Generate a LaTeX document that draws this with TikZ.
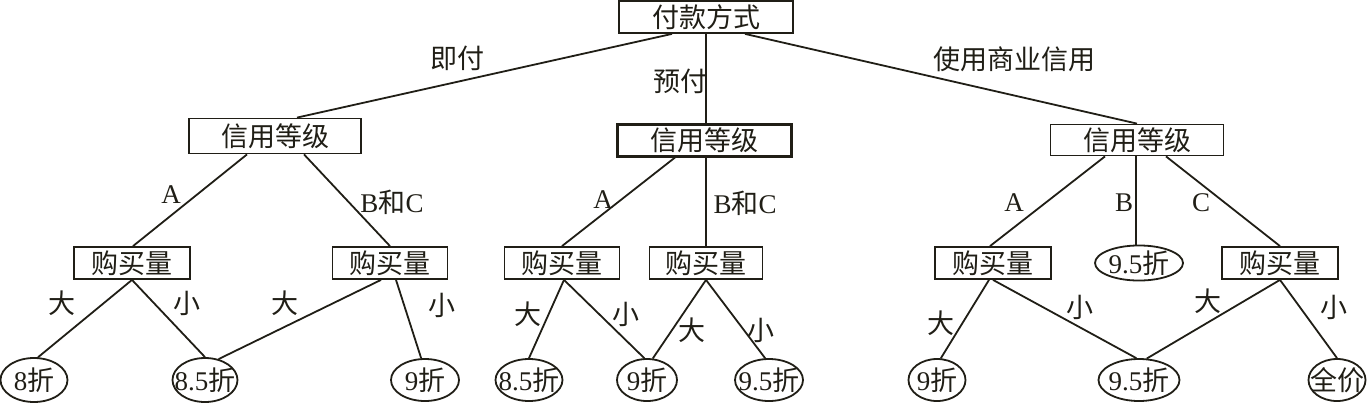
\documentclass[tikz,border=0pt]{standalone}
\usepackage{fontspec}
\setmainfont{Liberation Serif}
\newfontfamily\cjk{Noto Sans CJK SC}
\usetikzlibrary{shapes.geometric}
\definecolor{ink}{RGB}{32,30,22}
\begin{document}
\begin{tikzpicture}[x=1pt,y=-1pt,color=ink,line width=1.8pt,
  bigfont/.style={font=\fontsize{27}{27}\selectfont},
  box/.style={draw, rectangle, inner sep=0pt, minimum width=#1, minimum height=32pt, bigfont},
  leaf/.style={draw, ellipse, inner sep=0pt, bigfont},
  lbl/.style={inner sep=0pt, bigfont}]
\useasboundingbox (0,0) rectangle (1368,402);
% boxes
\node[box=174pt] (top) at (706,17) {\cjk 付款方式};
\node[box=172pt, minimum height=35pt] (L) at (275,136) {\cjk 信用等级};
\node[box=174pt, line width=3pt] (M) at (704,140) {\cjk 信用等级};
\node[box=173pt, minimum height=31pt] (R) at (1137,140) {\cjk 信用等级};
\node[box=116pt] (LA) at (132,263) {\cjk 购买量};
\node[box=115pt] (LB) at (390,263) {\cjk 购买量};
\node[box=115pt] (MA) at (562,263) {\cjk 购买量};
\node[box=113pt] (MB) at (706,263) {\cjk 购买量};
\node[box=116pt] (RA) at (993,263) {\cjk 购买量};
\node[box=116pt] (RC) at (1280,263) {\cjk 购买量};
\node[leaf, minimum width=88pt, minimum height=31pt] (RB) at (1139,263) {\makebox[0pt]{9.5{\cjk 折}}};
% leaves
\node[leaf, minimum width=67pt, minimum height=44pt] (e1) at (34,380) {\makebox[0pt]{8{\cjk 折}}};
\node[leaf, minimum width=65pt, minimum height=44pt] (e2) at (205,380) {\makebox[0pt]{8.5{\cjk 折}}};
\node[leaf, minimum width=68pt, minimum height=42pt] (e3) at (425,380) {\makebox[0pt]{9{\cjk 折}}};
\node[leaf, minimum width=67pt, minimum height=42pt] (e4) at (529,380) {\makebox[0pt]{8.5{\cjk 折}}};
\node[leaf, minimum width=60pt, minimum height=42pt] (e5) at (647,380) {\makebox[0pt]{9{\cjk 折}}};
\node[leaf, minimum width=68pt, minimum height=42pt] (e6) at (769,380) {\makebox[0pt]{9.5{\cjk 折}}};
\node[leaf, minimum width=57pt, minimum height=42pt] (e7) at (937,380) {\makebox[0pt]{9{\cjk 折}}};
\node[leaf, minimum width=81pt, minimum height=42pt] (e8) at (1139,380) {\makebox[0pt]{9.5{\cjk 折}}};
\node[leaf, minimum width=57pt, minimum height=42pt] (e9) at (1337,380) {\makebox[0pt]{\cjk 全价}};
% connectors
\draw ([xshift=-34pt]top.south) -- ([xshift=22pt]L.north);
\draw (top.south) -- (top.south |- M.north);
\draw ([xshift=39pt]top.south) -- (R.north);
\draw ([xshift=-28pt]L.south) -- ([xshift=1pt]LA.north);
\draw ([xshift=29pt]L.south) -- (LB.north);
\draw (LA.south) -- (e1.80);
\draw (LA.south) -- (e2.90);
\draw ([xshift=-9pt]LB.south) -- (e2.57);
\draw ([xshift=6pt]LB.south) -- (e3.100);
\draw ([xshift=-29pt]M.south) -- (MA.north);
\draw (top.south |- M.south) -- (MB.north);
\draw ([xshift=2pt]MA.south) -- (e4.90);
\draw ([xshift=2pt]MA.south) -- (e5.97);
\draw (MB.south) -- (e5.75);
\draw (MB.south) -- (e6.100);
\draw ([xshift=-32pt]R.south) -- ([xshift=-3pt]RA.north);
\draw ([xshift=-1pt]R.south) -- ([xshift=-1pt]R.south |- RB.north);
\draw ([xshift=29pt]R.south) -- (RC.north);
\draw ([xshift=-4pt]RA.south) -- (e7.80);
\draw (RA.south) -- (e8.97);
\draw (RC.south) -- (e8.70);
\draw (RC.south) -- (e9.90);
% labels
\node[lbl] (t1) at (457,58) {\cjk 即付};
\node[lbl] (t2) at (680,81) {\cjk 预付};
\node[lbl] (t3) at (1014,59) {\cjk 使用商业信用};
\node[lbl] (t4) at (171,195) {A};
\node[lbl] (t5) at (392,202) {B{\cjk 和}C};
\node[lbl] (t6) at (62,303) {\cjk 大};
\node[lbl] (t7) at (187,303) {\cjk 小};
\node[lbl] (t8) at (285,303) {\cjk 大};
\node[lbl] (t9) at (442,305) {\cjk 小};
\node[lbl] (t10) at (603,200) {A};
\node[lbl] (t11) at (745,203) {B{\cjk 和}C};
\node[lbl] (t12) at (528,314) {\cjk 大};
\node[lbl] (t13) at (626,314) {\cjk 小};
\node[lbl] (t14) at (692,330) {\cjk 大};
\node[lbl] (t15) at (761,330) {\cjk 小};
\node[lbl] (t16) at (1014,203) {A};
\node[lbl] (t17) at (1124,203) {B};
\node[lbl] (t18) at (1201,203) {C};
\node[lbl] (t19) at (941,323) {\cjk 大};
\node[lbl] (t20) at (1080,307) {\cjk 小};
\node[lbl] (t21) at (1208,301) {\cjk 大};
\node[lbl] (t22) at (1334,307) {\cjk 小};
\end{tikzpicture}
\end{document}
